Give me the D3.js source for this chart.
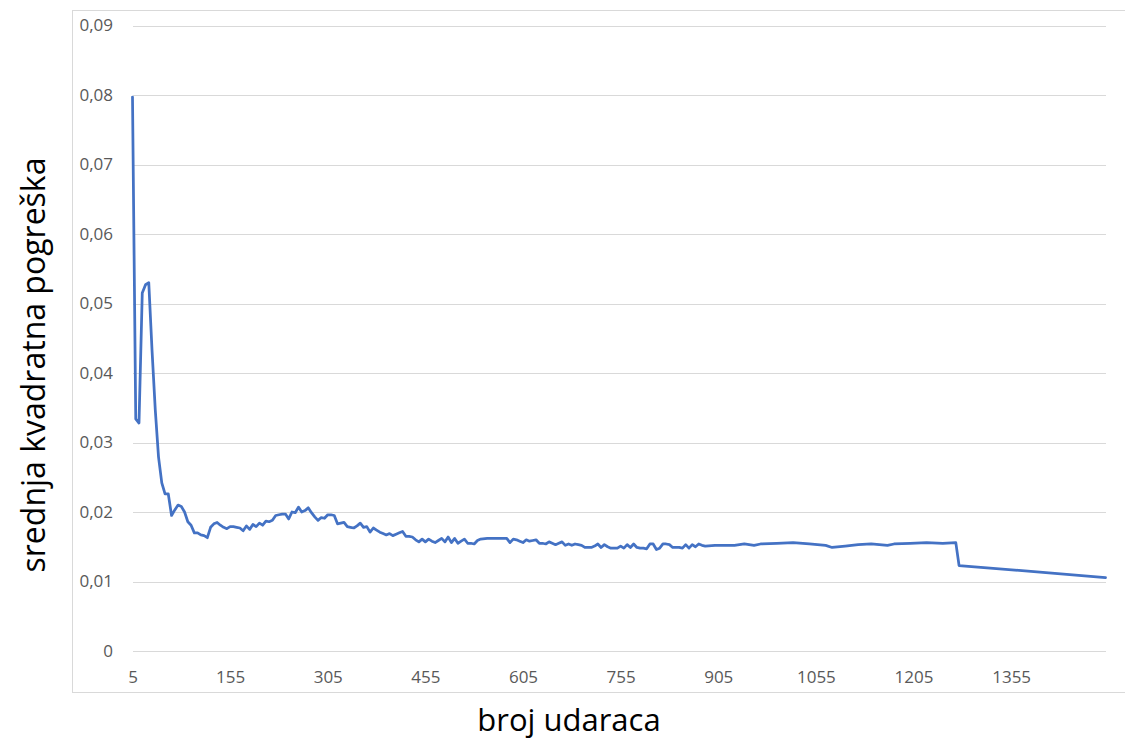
<!DOCTYPE html>
<html>
<head>
<meta charset="utf-8">
<script src="https://cdn.jsdelivr.net/npm/d3@7"></script>
<style>
  html, body { margin: 0; padding: 0; background: #fff; }
  svg { display: block; }
</style>
</head>
<body>
<svg id="chart" width="1125" height="744"></svg>
<script>
// broj udaraca (x) and srednja kvadratna pogreška (y)
const hits = [
  5, 10, 15, 20, 25, 30, 35, 40, 45, 50, 55, 60, 65, 70, 75, 80, 85, 90, 95, 100,
  105, 110, 115, 120, 125, 130, 135, 140, 145, 150, 155, 160, 165, 170, 175, 180, 185, 190, 195, 200,
  205, 210, 215, 220, 225, 230, 235, 240, 245, 250, 255, 260, 265, 270, 275, 280, 285, 290, 295, 300,
  305, 310, 315, 320, 325, 330, 335, 340, 345, 350, 355, 360, 365, 370, 375, 380, 385, 390, 395, 400,
  405, 410, 415, 420, 425, 430, 435, 440, 445, 450, 455, 460, 465, 470, 475, 480, 485, 490, 495, 500,
  505, 510, 515, 520, 525, 530, 535, 540, 550, 560, 570, 580, 585, 590, 595, 600,
  605, 610, 615, 620, 625, 630, 635, 640, 645, 650, 655, 660, 665, 670, 675, 680, 685, 690, 695, 700,
  705, 710, 715, 720, 725, 730, 735, 740, 745, 750, 755, 760, 765, 770, 775, 780, 785, 790, 795, 800,
  805, 810, 815, 820, 825, 830, 835, 840, 845, 850, 855, 860, 865, 870, 875, 880, 885, 900,
  915, 930, 945, 960, 970, 995, 1020, 1045, 1070, 1080, 1100, 1120, 1140, 1165, 1175, 1200,
  1225, 1250, 1270, 1275, 1500
];
const mse = [
  0.0797, 0.0334, 0.0328, 0.0515, 0.0527, 0.0530, 0.0433, 0.0347, 0.0279, 0.0242,
  0.0226, 0.0226, 0.0195, 0.0203, 0.0210, 0.0208, 0.0200, 0.0186, 0.0181, 0.0170,
  0.0170, 0.0167, 0.0166, 0.0163, 0.0178, 0.0183, 0.0185, 0.0181, 0.0178, 0.0176,
  0.0179, 0.0179, 0.0178, 0.0177, 0.0173, 0.0180, 0.0175, 0.0182, 0.0179, 0.0184,
  0.0181, 0.0187, 0.0186, 0.0188, 0.0195, 0.0196, 0.0197, 0.0197, 0.0190, 0.0200,
  0.0199, 0.0207, 0.0200, 0.0202, 0.0206, 0.0199, 0.0193, 0.0188, 0.0192, 0.0191,
  0.0196, 0.0196, 0.0195, 0.0183, 0.0184, 0.0185, 0.0179, 0.0178, 0.0177, 0.0180,
  0.0184, 0.0178, 0.0179, 0.0171, 0.0177, 0.0174, 0.0171, 0.0169, 0.0167, 0.0169,
  0.0166, 0.0168, 0.0170, 0.0172, 0.0165, 0.0165, 0.0164, 0.0160, 0.0157, 0.0161,
  0.0157, 0.0161, 0.0158, 0.0156, 0.0159, 0.0162, 0.0157, 0.0164, 0.0156, 0.0162,
  0.0155, 0.0158, 0.0161, 0.0155, 0.0155, 0.0154, 0.0159, 0.0161, 0.0162, 0.0162,
  0.0162, 0.0162, 0.0156, 0.0161, 0.0160, 0.0158,
  0.0156, 0.0160, 0.0158, 0.0159, 0.0160, 0.0155, 0.0155, 0.0154, 0.0157, 0.0155,
  0.0153, 0.0155, 0.0157, 0.0152, 0.0154, 0.0152, 0.0154, 0.0153, 0.0152, 0.0149,
  0.0149, 0.0149, 0.0151, 0.0154, 0.0149, 0.0153, 0.0150, 0.0148, 0.0148, 0.0148,
  0.0151, 0.0148, 0.0153, 0.0149, 0.0154, 0.0149, 0.0148, 0.0148, 0.0147, 0.0154,
  0.0154, 0.0146, 0.0148, 0.0154, 0.0154, 0.0153, 0.0149, 0.0149, 0.0149, 0.0148,
  0.0153, 0.0148, 0.0153, 0.0150, 0.0154, 0.0152, 0.0151, 0.0152,
  0.0152, 0.0152, 0.0154, 0.0152, 0.0154, 0.0155, 0.0156, 0.0154, 0.0152, 0.0149,
  0.0151, 0.0153, 0.0154, 0.0152, 0.0154, 0.0155,
  0.0156, 0.0155, 0.0156, 0.0123, 0.01055
];
const xTicks = [5, 155, 305, 455, 605, 755, 905, 1055, 1205, 1355];
const yTicks = [0, 0.01, 0.02, 0.03, 0.04, 0.05, 0.06, 0.07, 0.08, 0.09];
const xTitle = 'broj udaraca';
const yTitle = 'srednja kvadratna pogreška';

const FONT = '"Open Sans", "Liberation Sans", sans-serif';
const plotLeft = 132.5;
const plotRight = 1105.5;
const plotTop = 25.5;
const plotBottom = 651;

const svg = d3.select('#chart');

// chart area frame
svg.append('rect')
  .attr('x', 72.5)
  .attr('y', 10.5)
  .attr('width', 1070)
  .attr('height', 682)
  .attr('fill', '#fff')
  .attr('stroke', '#d9d9d9')
  .attr('stroke-width', 1);

const x = d3.scaleLinear().domain([5, 1500]).range([plotLeft, plotRight]);
const y = d3.scaleLinear().domain([0, 0.09]).range([plotBottom, plotTop]);

const fmt = (d) => {
  if (d === 0) return '0';
  return d3.format('.2f')(d).replace('.', ',');
};

// gridlines + y labels
let yAxis = svg.append('g')
  .attr('transform', `translate(${plotLeft},0)`)
  .call(d3.axisLeft(y).tickValues(yTicks).tickFormat(fmt).tickSize(-(plotRight - plotLeft)).tickPadding(19.5));
yAxis.select('.domain').remove();
yAxis.selectAll('line')
  .attr('stroke', '#d9d9d9')
  .attr('stroke-width', 1)
  .attr('shape-rendering', 'crispEdges');
yAxis.selectAll('text')
  .attr('fill', '#595959')
  .style('font-family', FONT)
  .style('font-size', '17px');

// x labels
let xAxis = svg.append('g')
  .attr('transform', `translate(0,${plotBottom})`)
  .call(d3.axisBottom(x).tickValues(xTicks).tickFormat(d3.format('d')).tickSize(0).tickPadding(20));
xAxis.select('.domain').remove();
xAxis.selectAll('text')
  .attr('fill', '#595959')
  .style('font-family', FONT)
  .style('font-size', '17px');

// series
const points = hits.map((h, i) => ({ hit: h, mse: mse[i] }));
const line = d3.line()
  .x(d => x(d.hit))
  .y(d => y(d.mse));
svg.append('path')
  .datum(points)
  .attr('d', line)
  .attr('fill', 'none')
  .attr('stroke', '#4472c4')
  .attr('stroke-width', 2.75)
  .attr('stroke-linejoin', 'round')
  .attr('stroke-linecap', 'round');

// axis titles
svg.append('text')
  .attr('x', 569)
  .attr('y', 731)
  .attr('text-anchor', 'middle')
  .attr('fill', '#000')
  .style('font-family', FONT)
  .style('font-size', '31px')
  .text(xTitle);

svg.append('text')
  .attr('transform', 'translate(45,365) rotate(-90)')
  .attr('text-anchor', 'middle')
  .attr('fill', '#000')
  .style('font-family', FONT)
  .style('font-size', '32px')
  .text(yTitle);
</script>
</body>
</html>
